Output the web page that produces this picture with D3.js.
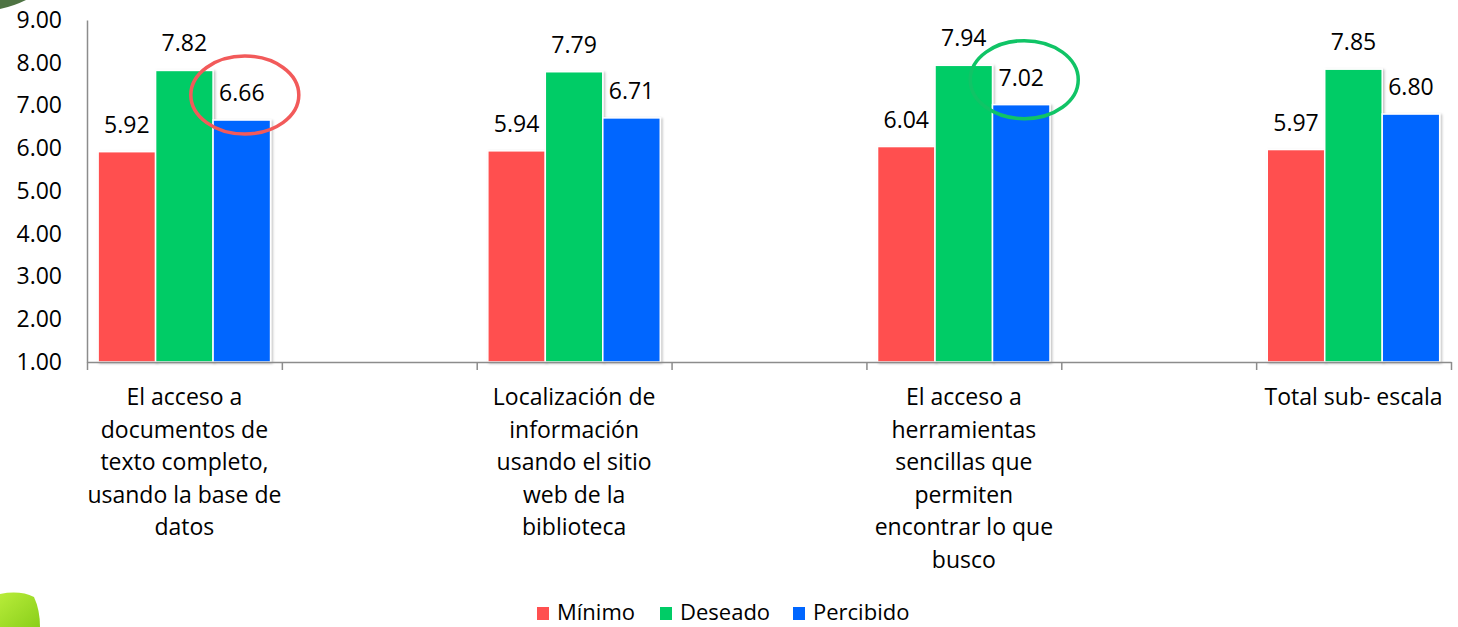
<!DOCTYPE html>
<html>
<head>
<meta charset="utf-8">
<script src="https://cdn.jsdelivr.net/npm/d3@7"></script>
<style>
  html, body { margin: 0; padding: 0; background: #fff; }
  svg { display: block; font-family: "Open Sans", sans-serif; }
</style>
</head>
<body>
<svg id="chart" width="1458" height="627"></svg>
<script>
// ---- data ----
const categories = [
  "El acceso a\ndocumentos de\ntexto completo,\nusando la base de\ndatos",
  "",
  "Localización de\ninformación\nusando el sitio\nweb de la\nbiblioteca",
  "",
  "El acceso a\nherramientas\nsencillas que\npermiten\nencontrar lo que\nbusco",
  "",
  "Total sub- escala"
];
const seriesNames = ["Mínimo", "Deseado", "Percibido"];
const minimo    = [5.92, null, 5.94, null, 6.04, null, 5.97];
const deseado   = [7.82, null, 7.79, null, 7.94, null, 7.85];
const percibido = [6.66, null, 6.71, null, 7.02, null, 6.80];
const yTicks = [1, 2, 3, 4, 5, 6, 7, 8, 9];
const highlighted = [0, 4]; // category indexes whose "Percibido" label is circled

const seriesValues = [minimo, deseado, percibido];
const colors = ["#FF5050", "#00CC66", "#0066FF"];
const highlightColors = ["#F25A5A", "#10C466"];

// ---- layout ----
const svg = d3.select("#chart");
const plotLeft = 87, plotRight = 1451, plotTop = 20, plotBottom = 362;
const fs = 23;

const y = d3.scaleLinear().domain([1, 9]).range([plotBottom, plotTop]);
const x0 = d3.scaleBand().domain(d3.range(categories.length)).range([plotLeft, plotRight]).padding(0);
const bw = x0.bandwidth();
const x1 = d3.scaleBand().domain(d3.range(seriesNames.length)).range([bw * 0.057, bw * 0.942]).padding(0);
const xIdx = d3.scaleLinear().domain([0, categories.length]).range([plotLeft, plotRight]);

// background decorations
const defs = svg.append("defs");
const lg = defs.append("linearGradient").attr("id", "leaf").attr("x1", 0).attr("y1", 0).attr("x2", 1).attr("y2", 1);
lg.append("stop").attr("offset", 0).attr("stop-color", "#B8EC3A");
lg.append("stop").attr("offset", 1).attr("stop-color", "#8ACF1A");
svg.append("path").attr("d", "M0,594 Q20,590 34,597 Q40,610 40,627 L0,627 Z").attr("fill", "url(#leaf)");
svg.append("path").attr("d", "M0,0 L26,0 Q14,6 0,9 Z").attr("fill", "#2f5a22").attr("opacity", 0.85);

const f = defs.append("filter").attr("id", "shadow").attr("x", "-10%").attr("y", "-10%").attr("width", "130%").attr("height", "130%");
f.append("feDropShadow").attr("dx", 1.5).attr("dy", 1).attr("stdDeviation", 1.2).attr("flood-color", "#000").attr("flood-opacity", 0.25);

// y axis
const yAxis = d3.axisLeft(y).tickValues(yTicks).tickFormat(d3.format(".2f")).tickSize(0).tickPadding(25);
const gy = svg.append("g").attr("transform", `translate(${plotLeft},0)`).call(yAxis);
gy.select(".domain").attr("stroke", "#8c8c8c").attr("stroke-width", 1.5);
gy.selectAll("text").attr("font-size", fs).attr("fill", "#000").attr("font-family", "Open Sans, sans-serif");

// bars
const groups = svg.append("g").selectAll("g")
  .data(categories.map((c, i) => i))
  .join("g")
  .attr("transform", i => `translate(${x0(i)},0)`);

groups.each(function(ci) {
  const g = d3.select(this);
  seriesValues.forEach((vals, si) => {
    const v = vals[ci];
    if (v == null) return;
    g.append("rect")
      .attr("x", x1(si))
      .attr("width", x1.bandwidth())
      .attr("y", y(v))
      .attr("height", y(1) - y(v))
      .attr("fill", colors[si])
      .attr("stroke", "#fff")
      .attr("stroke-width", 1.5)
      .attr("filter", "url(#shadow)");
    g.append("text")
      .attr("x", x1(si) + x1.bandwidth() / 2)
      .attr("y", y(v) - 19)
      .attr("text-anchor", "middle")
      .attr("font-size", fs)
      .attr("fill", "#000")
      .text(v.toFixed(2));
  });
});

// x axis
const xAxis = d3.axisBottom(xIdx).tickValues(d3.range(categories.length + 1)).tickFormat("").tickSize(8).tickSizeOuter(0);
const gx = svg.append("g").attr("transform", `translate(0,${plotBottom})`).call(xAxis);
gx.select(".domain").attr("stroke", "#8c8c8c").attr("stroke-width", 1.5);
gx.selectAll(".tick line").attr("stroke", "#8c8c8c").attr("stroke-width", 1.5);

// category labels
categories.forEach((c, i) => {
  if (!c) return;
  const t = svg.append("text")
    .attr("x", x0(i) + bw / 2)
    .attr("y", 405)
    .attr("text-anchor", "middle")
    .attr("font-size", fs)
    .attr("fill", "#000");
  c.split("\n").forEach((line, li) => {
    t.append("tspan").attr("x", x0(i) + bw / 2).attr("y", 405 + li * 32.5).text(line);
  });
});

// highlight ellipses
highlighted.forEach((ci, k) => {
  const v = percibido[ci];
  svg.append("ellipse")
    .attr("cx", x0(ci) + x1(2) + x1.bandwidth() / 2 + 3)
    .attr("cy", y(v) - 25)
    .attr("rx", 54)
    .attr("ry", 39)
    .attr("fill", "none")
    .attr("stroke", highlightColors[k])
    .attr("stroke-width", 3.5);
});

// legend
const legendX = [537, 660, 793];
const legend = svg.append("g");
seriesNames.forEach((name, i) => {
  legend.append("rect").attr("x", legendX[i]).attr("y", 607).attr("width", 12).attr("height", 13).attr("fill", colors[i]);
  legend.append("text").attr("x", legendX[i] + 20).attr("y", 620).attr("font-size", 22).attr("fill", "#000").text(name);
});
</script>
</body>
</html>
